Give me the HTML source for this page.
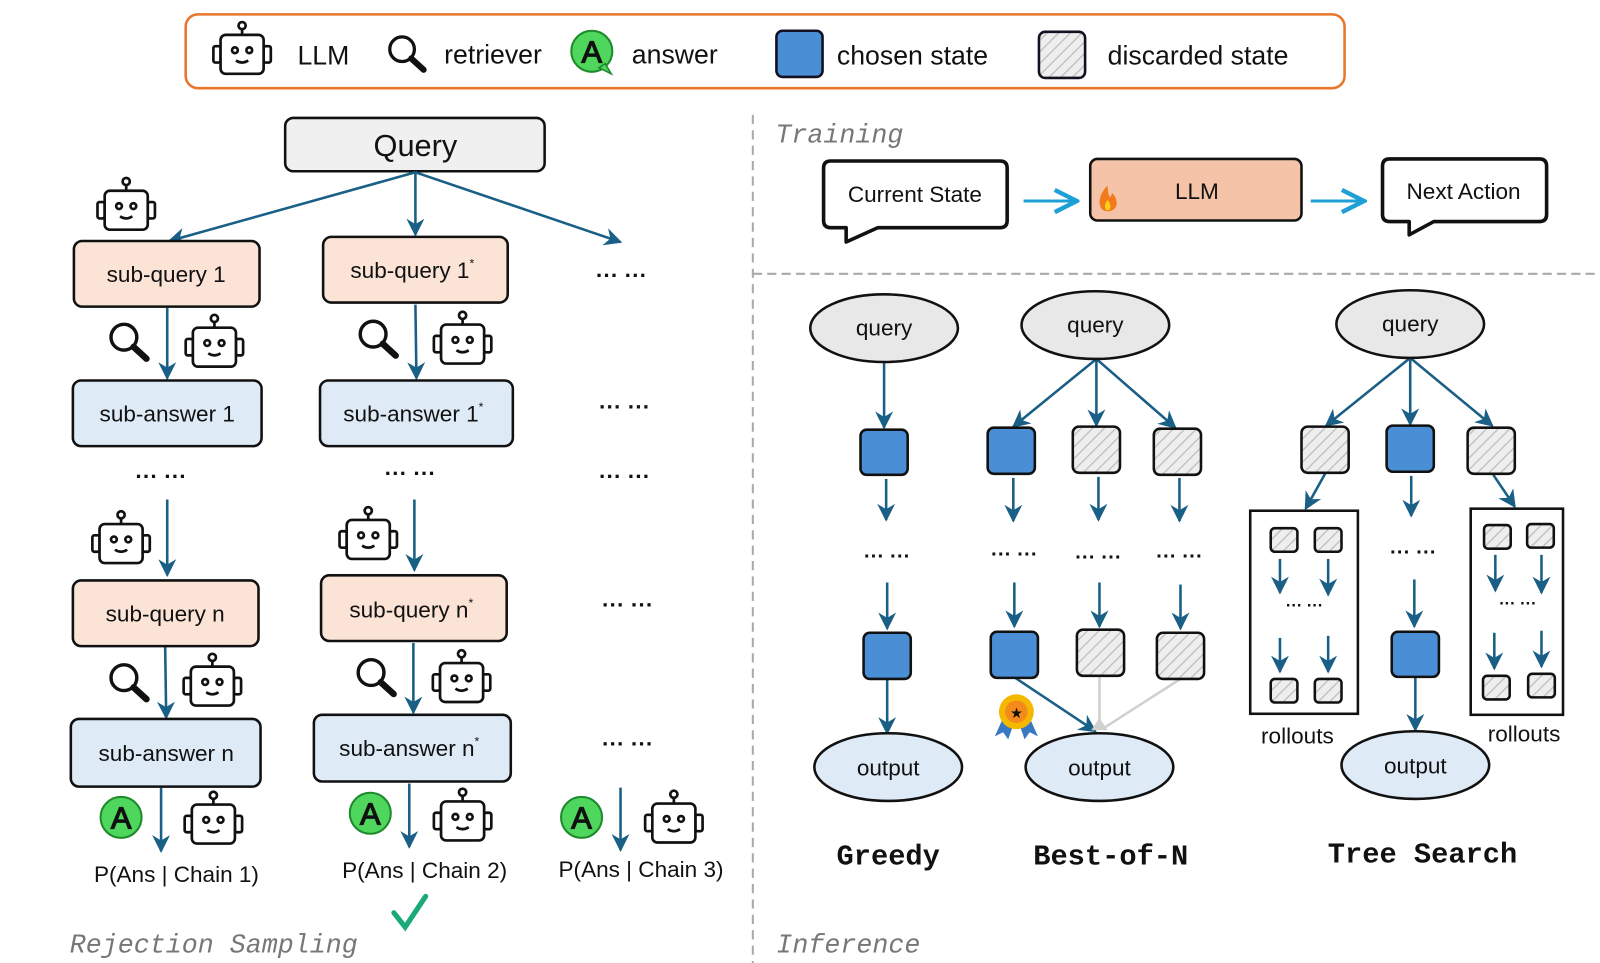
<!DOCTYPE html>
<html><head><meta charset="utf-8"><style>
html,body{margin:0;padding:0;background:#fff;width:1600px;height:963px;overflow:hidden}
svg{display:block}
.t{font-family:"Liberation Sans",sans-serif;fill:#111}
.m{font-family:"Liberation Mono",monospace;font-style:italic;fill:#777}
.b{font-family:"Liberation Mono",monospace;font-weight:bold;fill:#111}
</style></head><body>
<svg width="1600" height="963" viewBox="0 0 1560 939" xmlns="http://www.w3.org/2000/svg">
<defs>
<marker id="ah" viewBox="0 0 10 10" refX="9" refY="5" markerWidth="7" markerHeight="7" orient="auto-start-reverse"><path d="M0,0 L10,5 L0,10 L3,5 z" fill="#1a5f86"/></marker>
<marker id="ahc" viewBox="0 0 10 10" refX="9" refY="5" markerWidth="9" markerHeight="9" orient="auto"><path d="M1,1 L9,5 L1,9" fill="none" stroke="#1ea0d6" stroke-width="1.6"/></marker>
<pattern id="hatch" width="8" height="8" patternUnits="userSpaceOnUse" patternTransform="rotate(45)"><rect width="8" height="8" fill="#eeeeee"/><line x1="0" y1="0" x2="0" y2="8" stroke="#bdbdbd" stroke-width="2.5"/></pattern>
<symbol id="robot" viewBox="0 0 64 56"><g fill="#fff" stroke="#111" stroke-width="2.6"><line x1="32" y1="9" x2="32" y2="15"/><circle cx="32" cy="6" r="3.5"/><rect x="4" y="26" width="7" height="16" rx="2"/><rect x="53" y="26" width="7" height="16" rx="2"/><rect x="11" y="15" width="42" height="38" rx="5"/><circle cx="25" cy="30" r="2.8"/><circle cx="39" cy="30" r="2.8"/><path d="M26,40 Q32,44 38,40" fill="none"/></g></symbol>
<symbol id="mag" viewBox="0 0 42 40"><circle cx="16" cy="16" r="12" fill="none" stroke="#111" stroke-width="3.2"/><line x1="25" y1="25" x2="37" y2="36" stroke="#111" stroke-width="6" stroke-linecap="round"/></symbol>
</defs>

<!-- legend -->
<rect x="181" y="14" width="1130" height="72" rx="12" fill="#fff" stroke="#e8762d" stroke-width="2.5"/>
<use href="#robot" x="204" y="19" width="64" height="56"/>
<text class="t" x="290" y="63" font-size="26">LLM</text>
<use href="#mag" x="376" y="32" width="42" height="40"/>
<text class="t" x="433" y="62" font-size="26">retriever</text>
<circle cx="577" cy="50" r="20" fill="#4fd65c" stroke="#1d8a2b" stroke-width="2"/><path d="M584,66 L596,72 L590,62z" fill="#4fd65c" stroke="#1d8a2b" stroke-width="1.5"/>
<text class="t" x="577" y="61" font-size="30" text-anchor="middle" fill="#fff" stroke="#111" stroke-width="1.2">A</text>
<text class="t" x="616" y="62" font-size="26">answer</text>
<rect x="757" y="30" width="45" height="45" rx="6" fill="#4a8fd6" stroke="#112" stroke-width="2.5"/>
<text class="t" x="816" y="63" font-size="26">chosen state</text>
<rect x="1013" y="31" width="45" height="45" rx="6" fill="url(#hatch)" stroke="#112" stroke-width="2.5"/>
<text class="t" x="1080" y="63" font-size="26">discarded state</text>

<!-- left panel -->
<rect x="278" y="115" width="253" height="52" rx="8" fill="#f0f0f0" stroke="#111" stroke-width="2.5"/>
<text class="t" x="405" y="152" font-size="30" text-anchor="middle">Query</text>
<g stroke="#1a5f86" stroke-width="2.5" fill="none" marker-end="url(#ah)">
<line x1="405" y1="168" x2="165" y2="235"/><line x1="405" y1="168" x2="405" y2="229"/><line x1="405" y1="168" x2="605" y2="236"/>
<line x1="163" y1="300" x2="163" y2="369"/><line x1="405" y1="297" x2="406" y2="369"/>
<line x1="163" y1="487" x2="163" y2="561"/><line x1="404" y1="487" x2="404" y2="556"/>
<line x1="161" y1="631" x2="162" y2="700"/><line x1="403" y1="627" x2="403" y2="695"/>
<line x1="157" y1="768" x2="157" y2="830"/><line x1="399" y1="764" x2="399" y2="826"/><line x1="605" y1="768" x2="605" y2="829"/>
</g>
<use href="#robot" x="90" y="171" width="66" height="56"/>
<g stroke="#111" stroke-width="2.5">
<rect x="72" y="235" width="181" height="64" rx="8" fill="#fbe3d6"/>
<rect x="315" y="231" width="180" height="64" rx="8" fill="#fbe3d6"/>
<rect x="71" y="371" width="184" height="64" rx="8" fill="#deebf7"/>
<rect x="312" y="371" width="188" height="64" rx="8" fill="#deebf7"/>
<rect x="71" y="566" width="181" height="64" rx="8" fill="#fbe3d6"/>
<rect x="313" y="561" width="181" height="64" rx="8" fill="#fbe3d6"/>
<rect x="69" y="701" width="185" height="66" rx="8" fill="#deebf7"/>
<rect x="306" y="697" width="192" height="65" rx="8" fill="#deebf7"/>
</g>
<g class="t" font-size="22" text-anchor="middle">
<text x="162" y="275">sub-query 1</text>
<text x="402" y="271">sub-query 1<tspan font-size="12" dy="-10">*</tspan></text>
<text x="163" y="411">sub-answer 1</text>
<text x="403" y="411">sub-answer 1<tspan font-size="12" dy="-10">*</tspan></text>
<text x="161" y="606">sub-query n</text>
<text x="401" y="602">sub-query n<tspan font-size="12" dy="-10">*</tspan></text>
<text x="162" y="742">sub-answer n</text>
<text x="399" y="737">sub-answer n<tspan font-size="12" dy="-10">*</tspan></text>
<text x="172" y="860">P(Ans | Chain 1)</text>
<text x="414" y="856">P(Ans | Chain 2)</text>
<text x="625" y="855">P(Ans | Chain 3)</text>
</g>
<g class="t" font-size="22" font-weight="bold" text-anchor="middle">
<text x="606" y="276">··· ···</text><text x="609" y="404">··· ···</text><text x="157" y="472">··· ···</text><text x="400" y="469">··· ···</text><text x="609" y="472">··· ···</text><text x="612" y="597">··· ···</text><text x="612" y="733">··· ···</text>
</g>
<use href="#mag" x="104" y="312" width="44" height="42"/>
<use href="#robot" x="177" y="304" width="64" height="57"/>
<use href="#mag" x="347" y="309" width="44" height="42"/>
<use href="#robot" x="419" y="301" width="64" height="57"/>
<use href="#robot" x="85" y="496" width="66" height="56"/>
<use href="#robot" x="326" y="492" width="66" height="56"/>
<use href="#mag" x="104" y="644" width="44" height="42"/>
<use href="#robot" x="175" y="635" width="64" height="56"/>
<use href="#mag" x="345" y="639" width="44" height="42"/>
<use href="#robot" x="418" y="631" width="64" height="57"/>
<use href="#robot" x="176" y="769" width="64" height="57"/>
<use href="#robot" x="419" y="766" width="64" height="57"/>
<use href="#robot" x="625" y="768" width="64" height="57"/>
<g>
<circle cx="118" cy="797" r="20" fill="#4fd65c" stroke="#1d8a2b" stroke-width="2"/><text class="t" x="118" y="808" font-size="30" text-anchor="middle" fill="#fff" stroke="#111" stroke-width="1.2">A</text>
<circle cx="361" cy="793" r="20" fill="#4fd65c" stroke="#1d8a2b" stroke-width="2"/><text class="t" x="361" y="804" font-size="30" text-anchor="middle" fill="#fff" stroke="#111" stroke-width="1.2">A</text>
<circle cx="567" cy="797" r="20" fill="#4fd65c" stroke="#1d8a2b" stroke-width="2"/><text class="t" x="567" y="808" font-size="30" text-anchor="middle" fill="#fff" stroke="#111" stroke-width="1.2">A</text>
</g>
<path d="M384,890 L395,904 L415,874" fill="none" stroke="#1aaa7a" stroke-width="5" stroke-linecap="round"/>
<text class="m" x="68" y="929" font-size="26">Rejection Sampling</text>

<!-- dividers -->
<line x1="734" y1="112" x2="734" y2="939" stroke="#aaa" stroke-width="2" stroke-dasharray="9,6"/>
<line x1="734" y1="267" x2="1555" y2="267" stroke="#aaa" stroke-width="2" stroke-dasharray="9,5"/>
<text class="m" x="756" y="139" font-size="26">Training</text>
<text class="m" x="757" y="929" font-size="26">Inference</text>

<!-- training -->
<g stroke="#111" stroke-width="3.5" fill="#fff" stroke-linejoin="round">
<path d="M810,157 H975 Q982,157 982,164 V215 Q982,222 975,222 H856 L825,236 L825,222 H810 Q803,222 803,215 V164 Q803,157 810,157 Z"/>
<path d="M1355,155 H1501 Q1508,155 1508,162 V209 Q1508,216 1501,216 H1398 L1374,229 L1374,216 H1355 Q1348,216 1348,209 V162 Q1348,155 1355,155 Z"/>
</g>
<text class="t" x="892" y="197" font-size="22" text-anchor="middle">Current State</text>
<text class="t" x="1427" y="194" font-size="22" text-anchor="middle">Next Action</text>
<rect x="1063" y="155" width="206" height="60" rx="7" fill="#f5c4a8" stroke="#111" stroke-width="2.5"/>
<text class="t" x="1167" y="194" font-size="22" text-anchor="middle">LLM</text>
<path d="M1080,181 C1070,190 1069,206 1080,206 C1091,206 1091,194 1084,188 C1084,194 1080,194 1080,181Z" fill="#f27a1a"/>
<path d="M1080,195 C1076,200 1077,205 1080,205 C1083,205 1084,200 1080,195Z" fill="#ffd21a"/>
<line x1="998" y1="196" x2="1050" y2="196" stroke="#1ea0d6" stroke-width="3" marker-end="url(#ahc)"/>
<line x1="1278" y1="196" x2="1330" y2="196" stroke="#1ea0d6" stroke-width="3" marker-end="url(#ahc)"/>

<!-- inference -->
<g stroke="#1a5f86" stroke-width="2.5" fill="none" marker-end="url(#ah)">
<line x1="862" y1="353" x2="862" y2="417"/><line x1="864" y1="467" x2="864" y2="507"/><line x1="865" y1="568" x2="865" y2="613"/><line x1="865" y1="663" x2="865" y2="715"/>
<line x1="1069" y1="350" x2="988" y2="416"/><line x1="1069" y1="350" x2="1069" y2="415"/><line x1="1069" y1="350" x2="1146" y2="417"/>
<line x1="988" y1="466" x2="988" y2="508"/><line x1="1071" y1="465" x2="1071" y2="507"/><line x1="1150" y1="466" x2="1150" y2="508"/>
<line x1="989" y1="568" x2="989" y2="611"/><line x1="1072" y1="568" x2="1072" y2="611"/><line x1="1151" y1="570" x2="1151" y2="613"/>
<line x1="990" y1="661" x2="1068" y2="713"/>
<line x1="1375" y1="349" x2="1293" y2="415"/><line x1="1375" y1="349" x2="1375" y2="414"/><line x1="1375" y1="349" x2="1455" y2="415"/>
<line x1="1292" y1="462" x2="1273" y2="496"/><line x1="1376" y1="464" x2="1376" y2="503"/><line x1="1456" y1="463" x2="1477" y2="494"/>
<line x1="1379" y1="565" x2="1379" y2="611"/><line x1="1380" y1="661" x2="1380" y2="712"/>
<line x1="1248" y1="545" x2="1248" y2="578"/><line x1="1295" y1="545" x2="1295" y2="580"/><line x1="1248" y1="622" x2="1248" y2="655"/><line x1="1295" y1="620" x2="1295" y2="655"/>
<line x1="1458" y1="541" x2="1458" y2="576"/><line x1="1503" y1="541" x2="1503" y2="578"/><line x1="1457" y1="617" x2="1457" y2="652"/><line x1="1503" y1="615" x2="1503" y2="650"/>
</g>
<g stroke="#d0d0d0" stroke-width="2.5"><line x1="1072" y1="659" x2="1072" y2="710"/><line x1="1151" y1="662" x2="1076" y2="710"/></g>
<path d="M1064,712 L1072,700 L1080,712Z" fill="#d0d0d0"/>
<g stroke="#111" stroke-width="2.5">
<ellipse cx="862" cy="320" rx="72" ry="33" fill="#e8e8e8"/>
<ellipse cx="1068" cy="317" rx="72" ry="33" fill="#e8e8e8"/>
<ellipse cx="1375" cy="316" rx="72" ry="33" fill="#e8e8e8"/>
<ellipse cx="866" cy="748" rx="72" ry="33" fill="#deebf7"/>
<ellipse cx="1072" cy="748" rx="72" ry="33" fill="#deebf7"/>
<ellipse cx="1380" cy="746" rx="72" ry="33" fill="#deebf7"/>
<rect x="839" y="419" width="46" height="44" rx="6" fill="#4a8fd6"/>
<rect x="842" y="617" width="46" height="45" rx="6" fill="#4a8fd6"/>
<rect x="963" y="417" width="46" height="45" rx="6" fill="#4a8fd6"/>
<rect x="1046" y="416" width="46" height="45" rx="6" fill="url(#hatch)"/>
<rect x="1125" y="418" width="46" height="45" rx="6" fill="url(#hatch)"/>
<rect x="966" y="616" width="46" height="45" rx="6" fill="#4a8fd6"/>
<rect x="1050" y="614" width="46" height="45" rx="6" fill="url(#hatch)"/>
<rect x="1128" y="617" width="46" height="45" rx="6" fill="url(#hatch)"/>
<rect x="1269" y="416" width="46" height="45" rx="6" fill="url(#hatch)"/>
<rect x="1352" y="415" width="46" height="45" rx="6" fill="#4a8fd6"/>
<rect x="1431" y="417" width="46" height="45" rx="6" fill="url(#hatch)"/>
<rect x="1357" y="616" width="46" height="44" rx="6" fill="#4a8fd6"/>
<rect x="1219" y="498" width="105" height="198" fill="none"/>
<rect x="1434" y="496" width="90" height="201" fill="none"/>
<rect x="1239" y="515" width="26" height="23" rx="4" fill="url(#hatch)"/>
<rect x="1282" y="515" width="26" height="23" rx="4" fill="url(#hatch)"/>
<rect x="1239" y="662" width="26" height="23" rx="4" fill="url(#hatch)"/>
<rect x="1282" y="662" width="26" height="23" rx="4" fill="url(#hatch)"/>
<rect x="1447" y="512" width="26" height="23" rx="4" fill="url(#hatch)"/>
<rect x="1489" y="511" width="26" height="23" rx="4" fill="url(#hatch)"/>
<rect x="1446" y="659" width="26" height="23" rx="4" fill="url(#hatch)"/>
<rect x="1490" y="657" width="26" height="23" rx="4" fill="url(#hatch)"/>
</g>
<g class="t" font-size="22" text-anchor="middle">
<text x="862" y="327">query</text><text x="1068" y="324">query</text><text x="1375" y="323">query</text>
<text x="866" y="756">output</text><text x="1072" y="756">output</text><text x="1380" y="754">output</text>
<text x="1265" y="725">rollouts</text><text x="1486" y="723">rollouts</text>
</g>
<g class="t" font-size="20" font-weight="bold" text-anchor="middle">
<text x="865" y="549">··· ···</text><text x="989" y="547">··· ···</text><text x="1071" y="550">··· ···</text><text x="1150" y="549">··· ···</text><text x="1378" y="545">··· ···</text>
<text x="1272" y="596" font-size="16">··· ···</text><text x="1480" y="594" font-size="16">··· ···</text>
</g>
<!-- medal -->
<path d="M978,700 L970,718 L978,714 L983,721 L989,704Z M1004,700 L1012,718 L1004,714 L999,721 L993,704Z" fill="#3a78c4"/>
<circle cx="991" cy="694" r="17" fill="#f5b800"/><circle cx="991" cy="694" r="11" fill="#f48a1c"/>
<text class="t" x="991" y="700" font-size="14" text-anchor="middle" fill="#ffd54a">★</text>
<text class="b" x="866" y="843" font-size="28" text-anchor="middle">Greedy</text>
<text class="b" x="1083" y="843" font-size="28" text-anchor="middle">Best-of-N</text>
<text class="b" x="1387" y="841" font-size="28" text-anchor="middle">Tree Search</text>
</svg>
</body></html>
